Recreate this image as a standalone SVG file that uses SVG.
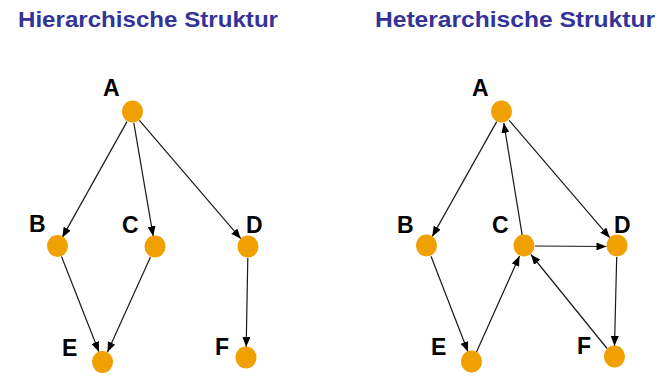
<svg xmlns="http://www.w3.org/2000/svg" width="660" height="376" viewBox="0 0 660 376">
<defs>
<style>
.title{font-family:"Liberation Sans",Arial,sans-serif;font-weight:bold;font-size:22px;fill:#333399}
.lbl{font-family:"Liberation Sans",Arial,sans-serif;font-weight:bold;font-size:23px;fill:#000}
.node{fill:#F0A000}
.edge{stroke:#1a1a1a;stroke-width:1.2;fill:none;marker-end:url(#arr)}
</style>
<marker id="arr" viewBox="0 0 10 8" refX="10" refY="4" markerWidth="10" markerHeight="8" markerUnits="userSpaceOnUse" orient="auto">
<path d="M0,0 L10,4 L0,8 Z" fill="#000"/>
</marker>
</defs>
<rect width="660" height="376" fill="#fff"/>
<text class="title" x="18" y="27" textLength="260" lengthAdjust="spacingAndGlyphs">Hierarchische Struktur</text>
<text class="title" x="375" y="27" textLength="280" lengthAdjust="spacingAndGlyphs">Heterarchische Struktur</text>
<g id="connectors">
<line class="edge" x1="127" y1="121.6" x2="62.3" y2="237.4"/>
<line class="edge" x1="133.8" y1="122.8" x2="153.2" y2="236.2"/>
<line class="edge" x1="139.4" y1="120.3" x2="240.8" y2="238.7"/>
<line class="edge" x1="61.5" y1="256.5" x2="98.9" y2="351.8"/>
<line class="edge" x1="150.5" y1="257" x2="107.5" y2="352"/>
<line class="edge" x1="247.8" y1="258" x2="246.2" y2="347"/>
<line class="edge" x1="496.7" y1="121.6" x2="432.3" y2="236.4"/>
<line class="edge" x1="522.2" y1="235.1" x2="503.8" y2="122.9"/>
<line class="edge" x1="509.2" y1="120.3" x2="609.8" y2="237.7"/>
<line class="edge" x1="535" y1="246" x2="606.5" y2="246.5"/>
<line class="edge" x1="431" y1="256.3" x2="468" y2="351.7"/>
<line class="edge" x1="476.5" y1="352" x2="519.5" y2="256"/>
<line class="edge" x1="607.1" y1="348.5" x2="530.9" y2="254.5"/>
<line class="edge" x1="616.7" y1="257" x2="614.5" y2="346"/>
</g>
<g id="L_A"><ellipse class="node" cx="132.5" cy="111.5" rx="10.5" ry="11"/><text class="lbl" x="103" y="96">A</text></g>
<g id="L_B"><ellipse class="node" cx="57.5" cy="246" rx="10.5" ry="11"/><text class="lbl" x="29" y="232">B</text></g>
<g id="L_C"><ellipse class="node" cx="155" cy="246.5" rx="10.5" ry="11"/><text class="lbl" x="122" y="233">C</text></g>
<g id="L_D"><ellipse class="node" cx="248" cy="246.5" rx="10.5" ry="11"/><text class="lbl" x="246" y="233">D</text></g>
<g id="L_E"><ellipse class="node" cx="102.5" cy="362" rx="10.5" ry="11"/><text class="lbl" x="62" y="356">E</text></g>
<g id="L_F"><ellipse class="node" cx="246" cy="357.5" rx="10.5" ry="11"/><text class="lbl" x="215" y="355">F</text></g>
<g id="R_A"><ellipse class="node" cx="501.5" cy="111.5" rx="10.5" ry="11"/><text class="lbl" x="472" y="96">A</text></g>
<g id="R_B"><ellipse class="node" cx="426.5" cy="245.5" rx="10.5" ry="11"/><text class="lbl" x="397" y="233">B</text></g>
<g id="R_C"><ellipse class="node" cx="524" cy="245.5" rx="10.5" ry="11"/><text class="lbl" x="492" y="233">C</text></g>
<g id="R_D"><ellipse class="node" cx="617" cy="245.5" rx="10.5" ry="11"/><text class="lbl" x="614" y="233">D</text></g>
<g id="R_E"><ellipse class="node" cx="471.5" cy="361.5" rx="10.5" ry="11"/><text class="lbl" x="431" y="355">E</text></g>
<g id="R_F"><ellipse class="node" cx="614.5" cy="356.5" rx="10.5" ry="11"/><text class="lbl" x="577" y="354">F</text></g>
</svg>
